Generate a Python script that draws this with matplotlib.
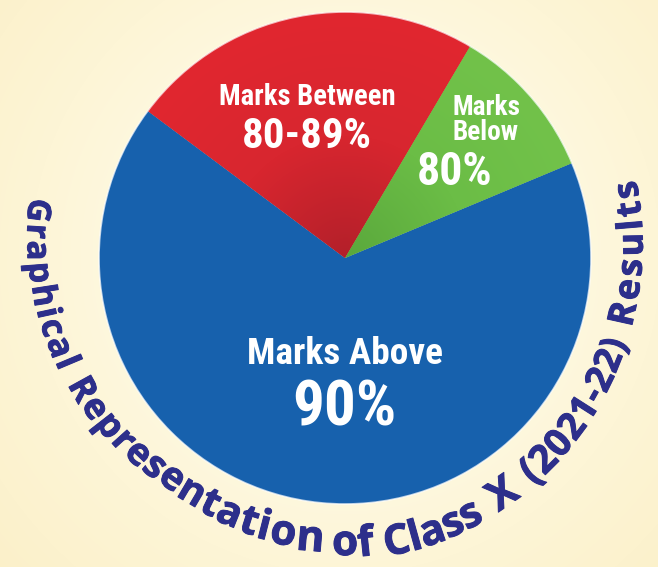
"""
Pie chart of Class X (2021-22) results with the title set on a curved arc.
"""
import numpy as np
import matplotlib
matplotlib.use("Agg")
import matplotlib.pyplot as plt
import matplotlib.patheffects as pe
from matplotlib.font_manager import FontProperties, findfont, get_font
from matplotlib.colors import LinearSegmentedColormap
from matplotlib.patches import Circle

# ----------------------------------------------------------------------------
# Data
# ----------------------------------------------------------------------------
CATEGORIES = ["Marks Below 80%", "Marks Between 80-89%", "Marks Above 90%"]
SHARES = [10.2, 23.3, 66.5]          # share of the pie
LABEL_HEAD = ["Marks\nBelow", "Marks Between", "Marks Above"]
LABEL_VALUE = ["80%", "80-89%", "90%"]
COLORS = ["#6bbd46", "#dc2830", "#1761ad"]
TITLE = "Graphical Representation of Class X (2021-22) Results"

# ----------------------------------------------------------------------------
# Layout (pixel coordinates, y up)
# ----------------------------------------------------------------------------
W, H = 658, 567
CX, CY, RAD = 345, 309, 246
TX, TY = 335, 317                    # centre of the title path
# angular span (degrees) of each title word along the path
WORD_SPANS = [(170, 204), (206.5, 268), (269.5, 277.5), (279.5, 299),
              (301, 308), (310, 342.5), (345, 373.5)]

fig = plt.figure(figsize=(W / 100, H / 100), dpi=100)
ax = fig.add_axes([0, 0, 1, 1])

# background: soft cream glow
yy, xx = np.mgrid[0:H, 0:W]
dist = np.hypot(xx - CX, (H - yy) - CY) / 420.0
bg = LinearSegmentedColormap.from_list("bg", ["#fffbe9", "#fdf5d6", "#fbefc6"])
ax.imshow(dist, cmap=bg, extent=(0, W, 0, H), origin="upper", vmin=0.3, vmax=1.2, zorder=0)

wedges, _ = ax.pie(SHARES, colors=COLORS, startangle=22.7, counterclock=True,
                   center=(CX, CY), radius=RAD, wedgeprops=dict(linewidth=0))
for w in wedges:
    w.set_zorder(1)

# shading on the red and green slices (darker toward the centre)
rgrid = np.hypot(xx - CX, (H - yy) - CY) / RAD
shades = {1: ["#b3202a", "#d8262f", "#e1272f"], 0: ["#5aa83c", "#6bbd46", "#72c24a"]}
for idx, cols in shades.items():
    cm = LinearSegmentedColormap.from_list("s%d" % idx, cols)
    im = ax.imshow(rgrid, cmap=cm, extent=(0, W, 0, H), origin="upper",
                   vmin=0, vmax=1, zorder=2)
    im.set_clip_path(wedges[idx])

ax.add_patch(Circle((CX, CY), RAD, fill=False, ec="white", lw=1.2, alpha=0.7, zorder=3))

ax.set_xlim(0, W)
ax.set_ylim(0, H)
ax.set_aspect("equal")
ax.axis("off")

# ----------------------------------------------------------------------------
# Slice labels (condensed bold, sized to the widths seen in the picture)
# ----------------------------------------------------------------------------
narrow = dict(family=["Liberation Sans Narrow", "Roboto Condensed", "DejaVu Sans Condensed",
                      "Lato", "DejaVu Sans"],
              fontstretch="condensed", weight="bold", color="white",
              ha="center", va="center", zorder=5)
renderer = fig.canvas.get_renderer()


def fit_label(x, y, s, width, size, **kw):
    t = ax.text(x, y, s, fontsize=size, **narrow, **kw)
    w = t.get_window_extent(renderer).width
    if w > width:
        t.set_fontsize(size * width / w)
    return t


fit_label(486, H - 120, LABEL_HEAD[0], 68, 20, linespacing=0.95)
fit_label(455, H - 172, LABEL_VALUE[0], 76, 33)
fit_label(307, H - 97, LABEL_HEAD[1], 176, 21)
fit_label(307, H - 137, LABEL_VALUE[1], 130, 34)
fit_label(345, H - 354, LABEL_HEAD[2], 196, 28)
fit_label(344, H - 408, LABEL_VALUE[2], 104, 46)

# ----------------------------------------------------------------------------
# Curved title
# ----------------------------------------------------------------------------
title_prop = FontProperties(family=["Open Sans", "DejaVu Sans"], weight="bold")
title_font = get_font(findfont(title_prop))
TITLE_COLOR = "#2d2f8b"


def size_at(theta):
    return np.interp(theta, [170, 204, 207, 268, 275, 290, 305, 320, 340, 373],
                     [23, 25, 25, 31, 30, 30, 30, 27, 26, 25])


def radius_at(theta):
    return np.interp(theta, [170, 200, 235, 262, 283, 310, 345, 373],
                     [310, 302, 291, 300, 311, 308, 306, 309])


def advance(ch, size_pt):
    title_font.set_size(size_pt, 100)
    g = title_font.load_char(ord(ch))
    return g.linearHoriAdvance / 65536.0


for word, (a0, a1) in zip(TITLE.split(" "), WORD_SPANS):
    rmid = radius_at((a0 + a1) / 2)
    span = np.radians(a1 - a0) * rmid
    angles = np.linspace(a0, a1, len(word))
    for _ in range(3):
        sizes = [size_at(a) for a in angles]
        adv = np.array([advance(c, s) for c, s in zip(word, sizes)])
        track = (span - adv.sum()) / len(word)
        pos = np.cumsum(adv + track) - (adv + track) / 2
        angles = a0 + np.degrees(pos / rmid)
    for ch, th, s in zip(word, angles, sizes):
        t = np.radians(th)
        r = radius_at(th)
        ax.text(TX + r * np.cos(t), TY + r * np.sin(t), ch, fontproperties=title_prop,
                fontsize=s, color=TITLE_COLOR, rotation=th + 90, rotation_mode="anchor",
                ha="center", va="baseline", zorder=6,
                path_effects=[pe.withStroke(linewidth=0.7, foreground=TITLE_COLOR)])

fig.savefig("out.png", dpi=100)
